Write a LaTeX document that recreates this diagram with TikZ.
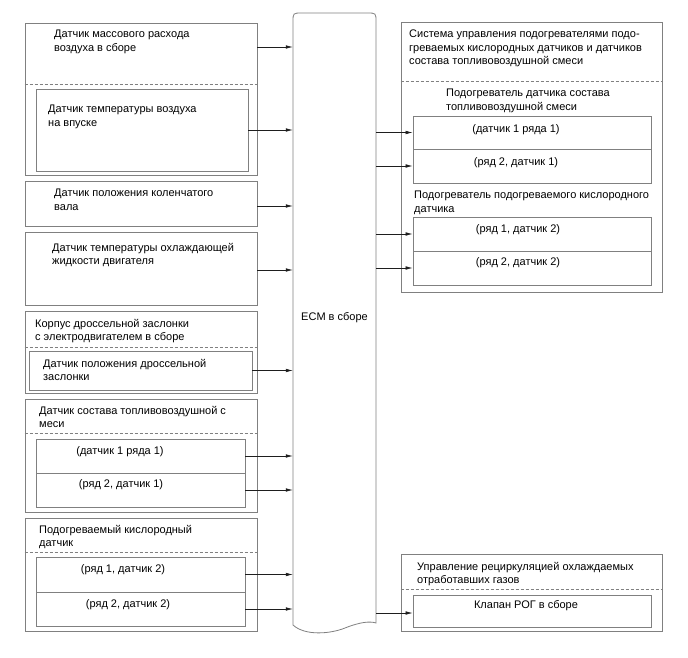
\documentclass[tikz,border=0pt]{standalone}
\usepackage{fontspec}
\setmainfont{Liberation Sans}
\usetikzlibrary{arrows.meta,fit}
\definecolor{bc}{RGB}{128,128,128}
\definecolor{ac}{RGB}{30,30,30}
\begin{document}
\begin{tikzpicture}[x=1pt,y=-1pt,
  box/.style={draw=bc, line width=0.8pt, inner sep=0pt},
  dsh/.style={draw=bc, line width=0.8pt, dash pattern=on 3pt off 2pt},
  arr/.style={draw=ac, line width=0.6pt, -{Latex[length=7pt,width=3.6pt]}},
  txt/.style={font=\fontsize{11}{13.5}\selectfont, inner sep=0pt, align=left, anchor=north west},
  ctxt/.style={font=\fontsize{11}{13.5}\selectfont, inner sep=0pt, anchor=north},
]
\useasboundingbox (0,0) rectangle (688,658);

% ECM
\draw[box] (293,625) -- (293,22) .. controls (293,13) .. (302,13) -- (367,13)
  .. controls (376,13) .. (376,22) -- (376,623)
  .. controls (370,621) and (360,622) .. (345,628)
  .. controls (330,634) and (305,636) .. (293,625) -- cycle;
\node[inner sep=0pt, minimum width=83pt, minimum height=606pt, font=\fontsize{11}{13.5}\selectfont] (ecm) at (334.5,318) {ECM в сборе};

% left boxes
\node[box, fit={(25,23) (257,175)}] (maf) {};
\node[box, fit={(36,89) (248,171)}] (iat) {};
\node[box, fit={(25,181) (257,226)}] (ckp) {};
\node[box, fit={(25,232) (257,305)}] (ect) {};
\node[box, fit={(25,311) (257,393)}] (tb) {};
\node[box, fit={(29,351) (252,390)}] (tps) {};
\node[box, fit={(25,399) (257,512)}] (mix) {};
\node[box, fit={(36,439) (245,473)}] (mixa) {};
\node[box, fit={(36,473) (245,507)}] (mixb) {};
\node[box, fit={(25,518) (257,631)}] (ho) {};
\node[box, fit={(36,557) (245,592)}] (hoa) {};
\node[box, fit={(36,592) (245,626)}] (hob) {};

\draw[dsh] (maf.west |- 0,84) -- (maf.east |- 0,84);
\draw[dsh] (tb.west |- 0,347) -- (tb.east |- 0,347);
\draw[dsh] (mix.west |- 0,433) -- (mix.east |- 0,433);
\draw[dsh] (ho.west |- 0,552) -- (ho.east |- 0,552);

% right boxes
\node[box, fit={(401,22) (662,292)}] (sys) {};
\node[box, fit={(413,116) (651,149)}] (ha) {};
\node[box, fit={(413,149) (651,183)}] (hb) {};
\node[box, fit={(413,217) (651,251)}] (hc) {};
\node[box, fit={(413,251) (651,285)}] (hd) {};
\node[box, fit={(401,554) (662,631)}] (egr) {};
\node[box, fit={(413,595) (651,627)}] (egrv) {};
\draw[dsh] (sys.west |- 0,81) -- (sys.east |- 0,81);
\draw[dsh] (egr.west |- 0,589) -- (egr.east |- 0,589);

% texts left
\node[txt] (t1) at (54,30) {Датчик массового расхода\\воздуха в сборе};
\node[txt] (t2) at (48,105) {Датчик температуры воздуха\\на впуске};
\node[txt] (t3) at (54,189) {Датчик положения коленчатого\\вала};
\node[txt] (t4) at (52,243) {Датчик температуры охлаждающей\\жидкости двигателя};
\node[txt] (t5) at (35,319) {Корпус дроссельной заслонки\\с электродвигателем в сборе};
\node[txt] (t6) at (43,359) {Датчик положения дроссельной\\заслонки};
\node[txt] (t7) at (39,406) {Датчик состава топливовоздушной с\\меси};
\node[ctxt] (t8) at (120,446) {(датчик 1 ряда 1)};
\node[ctxt] (t9) at (121,479) {(ряд 2, датчик 1)};
\node[txt] (t10) at (39,525) {Подогреваемый кислородный\\датчик};
\node[ctxt] (t11) at (123,564) {(ряд 1, датчик 2)};
\node[ctxt] (t12) at (128,599) {(ряд 2, датчик 2)};

% texts right
\node[txt] (r1) at (409,30) {Система управления подогревателями подо-\\греваемых кислородных датчиков и датчиков\\состава топливовоздушной смеси};
\node[txt] (r2) at (446,89) {Подогреватель датчика состава\\топливовоздушной смеси};
\node[ctxt] (r3) at (516,124) {(датчик 1 ряда 1)};
\node[ctxt] (r4) at (516,157) {(ряд 2, датчик 1)};
\node[txt] (r5) at (414,191) {Подогреватель подогреваемого кислородного\\датчика};
\node[ctxt] (r6) at (518,224) {(ряд 1, датчик 2)};
\node[ctxt] (r7) at (518,257) {(ряд 2, датчик 2)};
\node[txt] (r8) at (417,562) {Управление рециркуляцией охлаждаемых\\отработавших газов};
\node[ctxt] (r9) at (526,600) {Клапан РОГ в сборе};

% arrows into ECM
\draw[arr] (maf.east |- 0,47) -- (ecm.west |- 0,47);
\draw[arr] (iat.east) -- (iat.east -| ecm.west);
\draw[arr] (ckp.east |- 0,206) -- (ecm.west |- 0,206);
\draw[arr] (ect.east |- 0,270) -- (ecm.west |- 0,270);
\draw[arr] (tps.east) -- (tps.east -| ecm.west);
\draw[arr] (mixa.east) -- (mixa.east -| ecm.west);
\draw[arr] (mixb.east) -- (mixb.east -| ecm.west);
\draw[arr] (hoa.east) -- (hoa.east -| ecm.west);
\draw[arr] (hob.east) -- (hob.east -| ecm.west);

% arrows out of ECM
\draw[arr] (ecm.east |- ha.west) -- (ha.west);
\draw[arr] (ecm.east |- hb.west) -- (hb.west);
\draw[arr] (ecm.east |- hc.west) -- (hc.west);
\draw[arr] (ecm.east |- hd.west) -- (hd.west);
\draw[arr] (ecm.east |- 0,613) -- (egrv.west |- 0,613);
\end{tikzpicture}
\end{document}
